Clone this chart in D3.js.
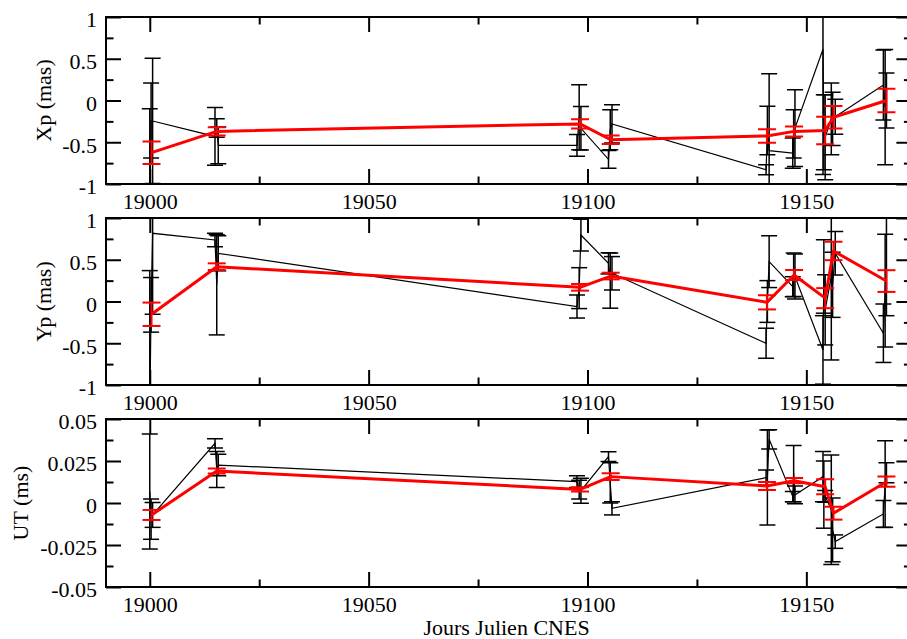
<!DOCTYPE html>
<html>
<head>
<meta charset="utf-8">
<script src="https://cdn.jsdelivr.net/npm/d3@7"></script>
<style>
  html, body { margin: 0; padding: 0; background: #fff; }
  svg { display: block; }
  svg text { font-family: 'Liberation Serif', 'Times New Roman', 'DejaVu Serif', serif !important; fill: #000; }
</style>
</head>
<body>
<svg id="chart" width="907" height="639"></svg>
<script>
// ---------- DATA ----------
const xBlack = [19000.0, 19000.3, 19000.65, 19014.9, 19015.3, 19015.65, 19097.6, 19098.1, 19098.5,
                19104.8, 19105.2, 19105.6, 19140.8, 19141.1, 19141.5, 19146.9, 19147.1, 19147.4,
                19153.8, 19154.0, 19154.3, 19155.7, 19156.0, 19156.6, 19167.6, 19168.0, 19168.3];

const xpBlack    = [-1.3, -0.24, -0.245, -0.43, -0.33, -0.537, -0.537, -0.2, -0.333,
                    -0.705, -0.35, -0.28, -0.83, -0.36, -0.6, -0.63, -0.4, -0.33,
                    0.613, -0.38, -0.44, -0.22, -0.22, -0.194, 0.186, -0.08, 0.0];
const xpBlackErr = [1.2, 0.45, 0.75, 0.345, 0.11, 0.22, 0.13, 0.39, 0.26,
                    0.105, 0.24, 0.23, 0.06, 0.29, 0.92, 0.18, 0.29, 0.46,
                    1.5, 0.45, 0.51, 0.43, 0.32, 0.21, 0.42, 0.69, 0.33];

const ypBlack    = [-1.4, -0.04, 0.817, 0.737, 0.2, 0.577, -0.06, 0.16, 0.796,
                    0.457, 0.25, 0.338, -0.5, 0.0, 0.477, 0.177, 0.32, 0.3,
                    -0.58, 0.3, -0.1, 0.3, 0.2, 0.577, -0.38, 0.13, 0.43];
const ypBlackErr = [1.77, 0.327, 0.97, 0.08, 0.6, 0.21, 0.138, 0.245, 0.19,
                    0.127, 0.33, 0.2, 0.18, 0.25, 0.31, 0.12, 0.26, 0.27,
                    0.41, 0.44, 0.42, 1.0, 0.39, 0.26, 0.35, 0.675, 0.6];

const utBlack    = [0.0068, -0.0096, -0.0071, 0.0355, 0.02, 0.0226, 0.0127, 0.008, 0.0073,
                    0.0276, 0.012, -0.0032, 0.0151, 0.0152, 0.0379, 0.0038, 0.0175, 0.0048,
                    0.0157, 0.005, 0.004, -0.004, -0.016, -0.023, -0.0065, 0.0113, 0.018];
const utBlackErr = [0.0342, 0.012, 0.0074, 0.0027, 0.0107, 0.0064, 0.0035, 0.0056, 0.0075,
                    0.0029, 0.012, 0.0039, 0.0045, 0.0283, 0.0057, 0.003, 0.0167, 0.0053,
                    0.015, 0.02, 0.0035, 0.0326, 0.019, 0.004, 0.008, 0.0258, 0.006];

const xRed = [19000.4, 19015.3, 19098.3, 19105.3, 19141.0, 19147.2, 19154.3, 19156.2, 19168.3];
const xpRed    = [-0.625, -0.37, -0.28, -0.47, -0.425, -0.37, -0.36, -0.20, 0.0];
const xpRedErr = [0.135, 0.05, 0.055, 0.05, 0.08, 0.06, 0.165, 0.135, 0.14];
const ypRed    = [-0.153, 0.417, 0.17, 0.305, -0.01, 0.317, 0.04, 0.605, 0.245];
const ypRedErr = [0.14, 0.04, 0.04, 0.04, 0.085, 0.06, 0.12, 0.11, 0.13];
const utRed    = [-0.0071, 0.019, 0.0081, 0.0157, 0.0101, 0.0133, 0.0097, -0.0061, 0.0127];
const utRedErr = [0.003, 0.0015, 0.0013, 0.002, 0.0024, 0.0016, 0.0045, 0.0038, 0.003];

const xMajorTicks = [19000, 19050, 19100, 19150];
const xMinorTicks = [19025, 19075, 19125, 19175];
const masTicks = [-1, -0.5, 0, 0.5, 1];
const masMinor = [-0.75, -0.25, 0.25, 0.75];
const masLabels = ["-1", "-0.5", "0", "0.5", "1"];
const utTicks = [-0.05, -0.025, 0, 0.025, 0.05];
const utMinor = [-0.0375, -0.0125, 0.0125, 0.0375];
const utLabels = ["-0.05", "-0.025", "0", "0.025", "0.05"];

const panelTitles = ["Xp (mas)", "Yp (mas)", "UT (ms)"];
const xTitle = "Jours Julien CNES";

// ---------- LAYOUT ----------
const FONT = "'Liberation Serif', 'Times New Roman', 'DejaVu Serif', serif";
const svg = d3.select("#chart");
const left = 106, right = 911.4;
const x = d3.scaleLinear().domain([18990, 19174]).range([left, right]);
const panels = [
  {top: 17, bottom: 184, domain: [-1, 1], ticks: masTicks, minor: masMinor, labels: masLabels,
   black: xpBlack, blackErr: xpBlackErr, red: xpRed, redErr: xpRedErr, title: panelTitles[0], titleX: 43},
  {top: 218, bottom: 385, domain: [-1, 1], ticks: masTicks, minor: masMinor, labels: masLabels,
   black: ypBlack, blackErr: ypBlackErr, red: ypRed, redErr: ypRedErr, title: panelTitles[1], titleX: 43},
  {top: 419, bottom: 587, domain: [-0.05, 0.05], ticks: utTicks, minor: utMinor, labels: utLabels,
   black: utBlack, blackErr: utBlackErr, red: utRed, redErr: utRedErr, title: panelTitles[2], titleX: 20}
];

const fontSize = 22;

panels.forEach((p, i) => {
  const y = d3.scaleLinear().domain(p.domain).range([p.bottom, p.top]);
  const g = svg.append("g");
  const clipId = "clip" + i;
  svg.append("defs").append("clipPath").attr("id", clipId)
    .append("rect").attr("x", left).attr("y", p.top)
    .attr("width", right - left).attr("height", p.bottom - p.top);

  function styleAxis(sel) {
    sel.attr("font-family", null).attr("font-size", null);
    sel.select(".domain").remove();
    sel.selectAll(".tick line").attr("stroke", "#000").attr("stroke-width", 2);
    sel.selectAll("text").style("font-family", FONT).style("font-size", fontSize + "px").attr("fill", "#000");
  }
  // bottom
  g.append("g").attr("transform", `translate(0,${p.bottom})`)
    .call(d3.axisBottom(x).tickValues(xMajorTicks).tickSize(-15).tickPadding(9).tickFormat(d3.format("d")))
    .call(styleAxis);
  g.append("g").attr("transform", `translate(0,${p.bottom})`)
    .call(d3.axisBottom(x).tickValues(xMinorTicks).tickSize(-7.5).tickFormat(""))
    .call(styleAxis);
  // top
  g.append("g").attr("transform", `translate(0,${p.top})`)
    .call(d3.axisTop(x).tickValues(xMajorTicks).tickSize(-15).tickFormat(""))
    .call(styleAxis);
  g.append("g").attr("transform", `translate(0,${p.top})`)
    .call(d3.axisTop(x).tickValues(xMinorTicks).tickSize(-7.5).tickFormat(""))
    .call(styleAxis);
  // left
  g.append("g").attr("transform", `translate(${left},0)`)
    .call(d3.axisLeft(y).tickValues(p.ticks).tickSize(-15).tickPadding(9)
      .tickFormat((d, k) => p.labels[k]))
    .call(styleAxis)
    .call(s => s.selectAll("text").attr("dy", "0.45em"));
  g.append("g").attr("transform", `translate(${left},0)`)
    .call(d3.axisLeft(y).tickValues(p.minor).tickSize(-7.5).tickFormat(""))
    .call(styleAxis);
  // right
  g.append("g").attr("transform", `translate(${right},0)`)
    .call(d3.axisRight(y).tickValues(p.ticks).tickSize(-15).tickFormat(""))
    .call(styleAxis);
  g.append("g").attr("transform", `translate(${right},0)`)
    .call(d3.axisRight(y).tickValues(p.minor).tickSize(-7.5).tickFormat(""))
    .call(styleAxis);

  const dl = g.append("g").attr("clip-path", `url(#${clipId})`);

  const blackPts = xBlack.map((xv, k) => ({x: xv, y: p.black[k], e: p.blackErr[k]}));
  const redPts = xRed.map((xv, k) => ({x: xv, y: p.red[k], e: p.redErr[k]}));

  function errorBars(sel, pts, color, sw, capW) {
    const eg = sel.append("g").attr("stroke", color).attr("stroke-width", sw).attr("fill", "none");
    pts.forEach(d => {
      const cx = x(d.x), y1 = y(d.y + d.e), y2 = y(d.y - d.e);
      eg.append("line").attr("x1", cx).attr("x2", cx).attr("y1", y1).attr("y2", y2);
      eg.append("line").attr("x1", cx - capW / 2).attr("x2", cx + capW / 2).attr("y1", y1).attr("y2", y1);
      eg.append("line").attr("x1", cx - capW / 2).attr("x2", cx + capW / 2).attr("y1", y2).attr("y2", y2);
    });
  }
  const line = d3.line().x(d => x(d.x)).y(d => y(d.y));

  errorBars(dl, blackPts, "#000", 1.5, 16);
  dl.append("path").datum(blackPts).attr("d", line)
    .attr("fill", "none").attr("stroke", "#000").attr("stroke-width", 1.2);
  errorBars(dl, redPts, "#ff0000", 2, 18);
  dl.append("path").datum(redPts).attr("d", line)
    .attr("fill", "none").attr("stroke", "#ff0000").attr("stroke-width", 3).attr("stroke-linejoin", "round");

  g.append("rect").attr("x", left).attr("y", p.top)
    .attr("width", right - left).attr("height", p.bottom - p.top)
    .attr("fill", "none").attr("stroke", "#000").attr("stroke-width", 2);

  const cy = (p.top + p.bottom) / 2;
  g.append("text").attr("transform", `translate(${p.titleX},${cy}) rotate(-90)`)
    .attr("text-anchor", "middle").attr("dy", "0.35em")
    .style("font-family", FONT).style("font-size", fontSize + "px").text(p.title);
});

svg.append("text").attr("x", (left + 907) / 2).attr("y", 635)
  .attr("text-anchor", "middle")
  .style("font-family", FONT).style("font-size", fontSize + "px").text(xTitle);
</script>
</body>
</html>
